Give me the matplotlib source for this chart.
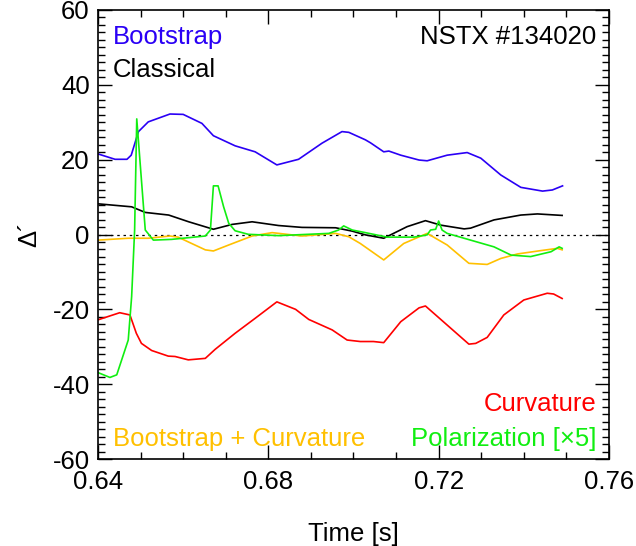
import numpy as np
import matplotlib
matplotlib.use("Agg")
import matplotlib.pyplot as plt
from matplotlib.ticker import MultipleLocator

plt.rcParams['font.family'] = ['Liberation Sans', 'DejaVu Sans']
plt.rcParams['axes.unicode_minus'] = False

# Bootstrap
t_boot = [0.6401, 0.644, 0.6468, 0.6478, 0.6495, 0.6518, 0.6569, 0.660, 0.6644, 0.6671,
          0.6722, 0.6769, 0.682, 0.6871, 0.6926, 0.6973, 0.6989, 0.7028, 0.704, 0.7071,
          0.7083, 0.7111, 0.7154, 0.7173, 0.722, 0.7267, 0.7299, 0.7346, 0.7393, 0.7444,
          0.7467, 0.7491]
d_boot = [21.5, 20.1, 20.1, 21.2, 27.5, 30.1, 32.2, 32.1, 29.7, 26.4,
          23.7, 22.1, 18.6, 20.1, 24.4, 27.5, 27.3, 25.3, 24.5, 22.1,
          22.3, 21.2, 19.9, 19.7, 21.2, 21.9, 20.4, 15.9, 12.6, 11.6,
          11.9, 13.0]

# Classical
t_clas = [0.640, 0.6479, 0.6511, 0.6566, 0.6613, 0.6671, 0.6715, 0.6762, 0.6824, 0.6879,
          0.6958, 0.6997, 0.7028, 0.7071, 0.7087, 0.7126, 0.7169, 0.7205, 0.726, 0.7275,
          0.733, 0.7393, 0.7432, 0.749]
d_clas = [8.2, 7.4, 5.9, 5.2, 3.4, 1.4, 2.7, 3.4, 2.4, 1.9,
          1.8, 0.9, -0.1, -1.0, -0.1, 2.1, 3.7, 2.5, 1.5, 1.7,
          3.9, 5.2, 5.5, 5.1]

# Polarization (x5)
t_pol = [0.640, 0.6428, 0.6444, 0.6471, 0.6479, 0.6486, 0.6491, 0.6511, 0.653, 0.6573,
         0.6652, 0.6664, 0.6671, 0.6682, 0.6695, 0.6707, 0.6722, 0.6753, 0.6824, 0.6942,
         0.6965, 0.6977, 0.6997, 0.7028, 0.7079, 0.7142, 0.7173, 0.7181, 0.7193, 0.720,
         0.7208, 0.722, 0.7275, 0.733, 0.737, 0.7416, 0.7464, 0.7483, 0.749]
d_pol = [-36.9, -38.2, -37.5, -28.2, -16.6, 1.2, 30.9, 1.2, -1.5, -1.3,
         -0.4, 1.2, 13.0, 13.0, 7.4, 3.0, 1.0, 0.05, -0.3, 0.3,
         1.2, 2.3, 1.2, 0.5, -0.7, -0.7, -0.1, 1.2, 1.4, 3.6,
         1.2, 0.3, -1.5, -3.3, -5.5, -5.9, -4.6, -3.3, -3.7]

# Bootstrap + Curvature
t_bc = [0.640, 0.6471, 0.6518, 0.6569, 0.6588, 0.6652, 0.6671, 0.6707, 0.6762, 0.6809,
        0.6879, 0.6958, 0.6989, 0.7016, 0.7071, 0.7118, 0.7173, 0.722, 0.7271, 0.7314,
        0.7346, 0.7385, 0.744, 0.7479, 0.749]
d_bc = [-1.5, -1.0, -1.0, -0.4, -0.7, -4.1, -4.4, -2.8, -0.4, 0.5,
        -0.4, 0.3, -0.6, -2.4, -6.8, -2.4, 0.3, -2.8, -7.7, -8.0,
        -6.4, -5.2, -4.3, -3.7, -4.1]

# Curvature
t_curv = [0.640, 0.6451, 0.6475, 0.649, 0.6502, 0.6526, 0.6565, 0.6581, 0.6612, 0.6652,
          0.6675, 0.6722, 0.6769, 0.682, 0.6864, 0.6895, 0.695, 0.6985, 0.7016, 0.7047,
          0.7071, 0.7111, 0.7154, 0.7169, 0.722, 0.7271, 0.7287, 0.7314, 0.7353, 0.740,
          0.7455, 0.747, 0.749]
d_curv = [-22.8, -20.9, -21.5, -26.4, -29.1, -31.0, -32.5, -32.6, -33.5, -33.1,
          -30.7, -26.4, -22.4, -18.0, -20.0, -22.7, -25.5, -28.2, -28.6, -28.6,
          -28.9, -23.3, -19.6, -19.1, -24.2, -29.3, -29.1, -27.5, -21.5, -17.5,
          -15.7, -15.9, -17.1]

c_blue = '#2a00f5'
c_red = '#ff0000'
c_green = '#11ee11'
c_yellow = '#ffc000'

fig = plt.figure(figsize=(6.36, 5.46), dpi=100)
ax = fig.add_axes([0.1541, 0.1593, 0.8034, 0.8224])

ax.axhline(0, color='black', lw=0.9, ls=(0, (2, 3)))
ax.plot(t_boot, d_boot, color=c_blue, lw=1.2)
ax.plot(t_clas, d_clas, color='black', lw=1.2)
ax.plot(t_bc, d_bc, color=c_yellow, lw=1.2)
ax.plot(t_curv, d_curv, color=c_red, lw=1.2)
ax.plot(t_pol, d_pol, color=c_green, lw=1.2)

ax.set_xlim(0.64, 0.76)
ax.set_ylim(-60, 60)
ax.xaxis.set_minor_locator(MultipleLocator(0.01))
ax.yaxis.set_major_locator(MultipleLocator(20))
ax.yaxis.set_minor_locator(MultipleLocator(2))
ax.set_xticks([0.64, 0.68, 0.72, 0.76])
ax.set_xticklabels(['0.64', '0.68', '0.72', '0.76'])
ax.tick_params(which='both', direction='in', top=True, right=True, labelsize=18.5, width=1)
ax.tick_params(which='major', length=10)
ax.tick_params(axis='x', which='major', pad=8)
ax.tick_params(axis='y', which='major', pad=6)
ax.tick_params(which='minor', length=5)
for s in ax.spines.values():
    s.set_linewidth(1.2)

ax.set_xlabel('Time [s]', fontsize=18.5, labelpad=20)
ax.set_ylabel('Δ´', fontsize=18.5, labelpad=8)

kw = dict(transform=ax.transAxes, fontsize=18.5, va='center')
ax.text(0.029, 0.94, 'Bootstrap', color=c_blue, ha='left', **kw)
ax.text(0.029, 0.866, 'Classical', color='black', ha='left', **kw)
ax.text(0.975, 0.94, 'NSTX #134020', color='black', ha='right', **kw)
ax.text(0.975, 0.122, 'Curvature', color=c_red, ha='right', **kw)
ax.text(0.029, 0.045, 'Bootstrap + Curvature', color=c_yellow, ha='left', **kw)
ax.text(0.975, 0.045, 'Polarization [×5]', color=c_green, ha='right', **kw)

fig.savefig('out.png', dpi=100)
